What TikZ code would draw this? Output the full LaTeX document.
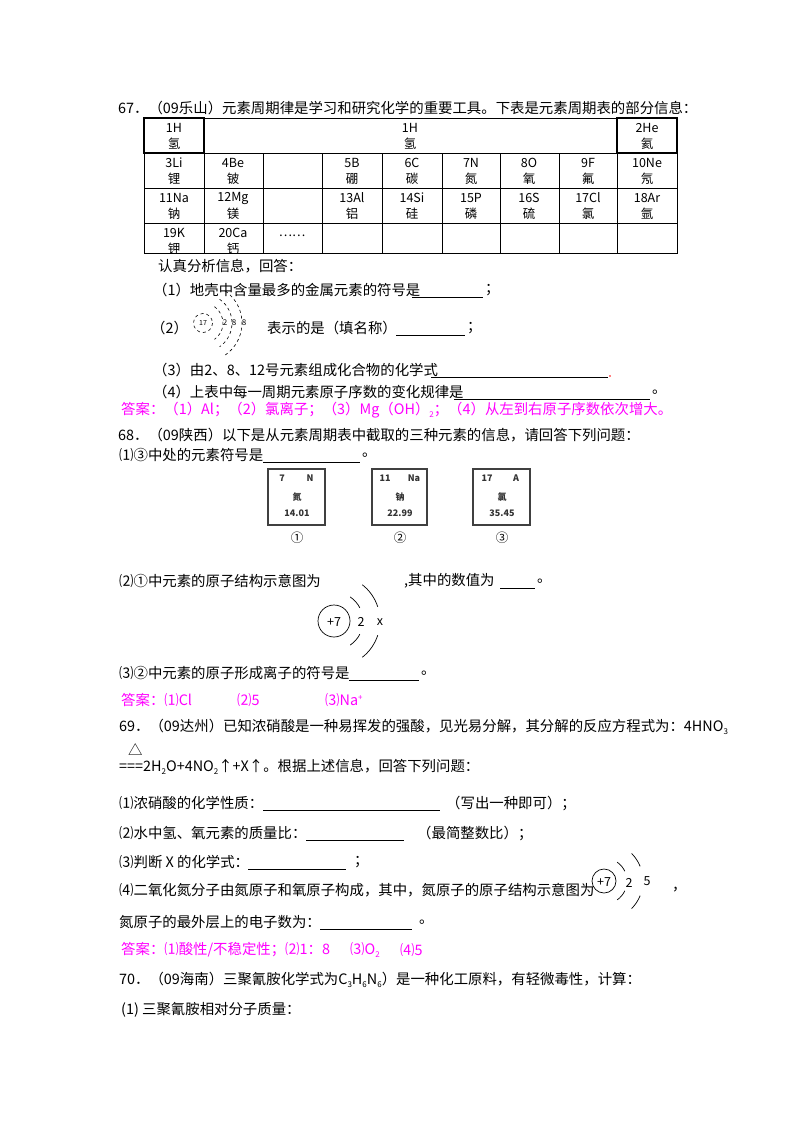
\documentclass[tikz,border=0pt]{standalone}
\usepackage{fontspec}
\setmainfont{Noto Sans CJK SC}
\newcommand{\dn}[1]{\raisebox{-0.35ex}{\fontsize{8}{8}\selectfont #1}}
\newcommand{\up}[1]{\raisebox{0.7ex}{\fontsize{8}{8}\selectfont #1}}
\definecolor{mag}{RGB}{255,0,255}
\tikzset{
  t/.style={anchor=west,inner sep=0pt,font=\fontsize{14.4}{16}\selectfont},
  c/.style={inner sep=0pt,font=\fontsize{12.5}{14}\selectfont},
  ans/.style={t,text=mag},
  ul/.style={line width=0.7pt},
  grid/.style={line width=0.8pt},
  eb/.style={draw=black!75,line width=1.6pt},
  es/.style={inner sep=0pt,font=\fontsize{9}{10}\selectfont\bfseries,text=black!80}
}
\begin{document}
\begin{tikzpicture}[x=1pt,y=-1pt]
\useasboundingbox (0,0) rectangle (800,1132);
\fill[white] (0,0) rectangle (800,1132);
% 67
\node[t] (q67) at (118,108) {67．（09乐山）元素周期律是学习和研究化学的重要工具。下表是元素周期表的部分信息：};
% table
\draw[grid] (144,153) rectangle (677,253);
\foreach \yy in {188,223} \draw[grid] (144,\yy) -- (677,\yy);
\foreach \xx in {204,263,322,382,442,500,559,617} \draw[grid] (\xx,153) -- (\xx,253);
\draw[line width=1.3pt] (144,118) rectangle (204,153);
\draw[line width=1.3pt] (617,118) rectangle (677,153);
\draw[grid] (204,118) -- (617,118);
\newcommand{\cell}[4]{\node[c] at (#1,#2+10) {#3}; \node[c] at (#1,#2+26) {#4};}
\cell{174}{118}{1H}{氢}
\cell{410}{118}{1H}{氢}
\cell{647}{118}{2He}{氦}
\cell{174}{153}{3Li}{锂}
\cell{233}{153}{4Be}{铍}
\cell{352}{153}{5B}{硼}
\cell{412}{153}{6C}{碳}
\cell{471}{153}{7N}{氮}
\cell{529}{153}{8O}{氧}
\cell{588}{153}{9F}{氟}
\cell{647}{153}{10Ne}{氖}
\cell{174}{188}{11Na}{钠}
\cell{233}{188}{12Mg}{镁}
\cell{352}{188}{13Al}{铝}
\cell{412}{188}{14Si}{硅}
\cell{471}{188}{15P}{磷}
\cell{529}{188}{16S}{硫}
\cell{588}{188}{17Cl}{氯}
\cell{647}{188}{18Ar}{氩}
\cell{174}{223}{19K}{钾}
\cell{233}{223}{20Ca}{钙}
\node[c] (dots) at (292,236) {……};
\node[t] (a0) at (158,266) {认真分析信息，回答：};
\node[t] (a1) at (153,290) {（1）地壳中含量最多的金属元素的符号是};
\draw[ul] (412,297) -- (483,297); \node[t] at (485,290) {；};
\node[t] (a2) at (151,328) {（2）};
% atom 17
\draw[dashed,line width=0.6pt] (203,323) circle (9.5);
\node[inner sep=0pt,font=\fontsize{7}{7}\selectfont] at (203,323) {17};
\foreach \r in {20,29,39} \draw[dashed,line width=0.6pt] (203,323) ++(-55:\r) arc[start angle=-55,end angle=55,radius=\r];
\node[inner sep=0pt,font=\fontsize{8}{8}\selectfont] at (225,323) {2};
\node[inner sep=0pt,font=\fontsize{8}{8}\selectfont] at (234,323) {8};
\node[inner sep=0pt,font=\fontsize{8}{8}\selectfont] at (244,323) {8};
\node[t] (a2b) at (267,328) {表示的是（填名称）};
\draw[ul] (396,335) -- (465,335); \node[t] at (467,328) {；};
\node[t] (a3) at (153,370) {（3）由2、8、12号元素组成化合物的化学式};
\draw[ul] (431,377) -- (608,377); \fill[red] (610,376) circle (0.8);
\node[t] (a4) at (153,392) {（4）上表中每一周期元素原子序数的变化规律是};
\draw[ul] (454,399) -- (650,399); \node[t] at (652,392) {。};
\node[ans] (ans67) at (121,410) {答案：（1）Al；（2）氯离子；（3）Mg（OH）\dn{2}；（4）从左到右原子序数依次增大。};
% 68
\node[t] (q68) at (118,435) {68．（09陕西）以下是从元素周期表中截取的三种元素的信息，请回答下列问题：};
\node[t] (b1) at (119,455) {⑴③中处的元素符号是};
\draw[ul] (263,462) -- (360,462); \node[t] at (362,455) {。};
\draw[eb] (268,469) rectangle (325,525);
\node[es] at (282,478) {7}; \node[es] at (310,478) {N}; \node[es] at (297,497) {氮}; \node[es] at (297,513) {14.01};
\draw[eb] (372,469) rectangle (427,525);
\node[es] at (385,478) {11}; \node[es] at (414,478) {Na}; \node[es] at (400,497) {钠}; \node[es] at (400,513) {22.99};
\draw[eb] (473,469) rectangle (530,525);
\node[es] at (487,478) {17}; \node[es] at (516,478) {A}; \node[es] at (502,497) {氯}; \node[es] at (502,513) {35.45};
\node[c] at (297,538) {①}; \node[c] at (400,538) {②}; \node[c] at (502,538) {③};
\node[t] (b2) at (119,581) {⑵①中元素的原子结构示意图为};
\node[t] (b2b) at (404,581) {,其中的数值为};
\draw[ul] (500,588) -- (535,588); \node[t] at (537,581) {。};
% atom N
\draw[line width=0.7pt] (334,621) circle (16);
\node[c] at (334,622) {+7};
\draw[line width=0.7pt] (334,621) ++(27:29) arc[start angle=27,end angle=56,radius=29];
\draw[line width=0.7pt] (334,621) ++(-27:29) arc[start angle=-27,end angle=-56,radius=29];
\draw[line width=0.7pt] (334,621) ++(18:46) arc[start angle=18,end angle=52,radius=46];
\draw[line width=0.7pt] (334,621) ++(-18:46) arc[start angle=-18,end angle=-52,radius=46];
\node[c] at (361,622) {2}; \node[c] at (380,622) {x};
\node[t] (b3) at (119,673) {⑶②中元素的原子形成离子的符号是};
\draw[ul] (349,680) -- (419,680); \node[t] at (421,673) {。};
\node[ans] (ans68) at (121,700) {答案：⑴Cl};
\node[ans] at (237,700) {⑵5};
\node[ans] at (325,700) {⑶Na\up{+}};
% 69
\node[t] (q69) at (119,727) {69．（09达州）已知浓硝酸是一种易挥发的强酸，见光易分解，其分解的反应方程式为：4HNO\dn{3}};
\node[t] at (128,750) {△};
\node[t] (eq) at (119,767) {===2H\dn{2}O+4NO\dn{2}↑+X↑。根据上述信息，回答下列问题：};
\node[t] (c1) at (119,803) {⑴浓硝酸的化学性质：};
\draw[ul] (263,810) -- (440,810); \node[t] at (446,803) {（写出一种即可）；};
\node[t] (c2) at (119,833) {⑵水中氢、氧元素的质量比：};
\draw[ul] (306,840) -- (404,840); \node[t] at (417,833) {（最简整数比）；};
\node[t] (c3) at (119,862) {⑶判断 X 的化学式：};
\draw[ul] (248,869) -- (346,869); \node[t] at (354,862) {；};
\node[t] (c4) at (119,890) {⑷二氧化氮分子由氮原子和氧原子构成，其中，氮原子的原子结构示意图为};
\draw[line width=0.7pt] (604,881) circle (12);
\node[c] at (604,882) {+7};
\draw[line width=0.7pt] (604,881) ++(25:23) arc[start angle=25,end angle=55,radius=23];
\draw[line width=0.7pt] (604,881) ++(-25:23) arc[start angle=-25,end angle=-55,radius=23];
\draw[line width=0.7pt] (604,881) ++(22:39) arc[start angle=22,end angle=45,radius=39];
\draw[line width=0.7pt] (604,881) ++(-22:39) arc[start angle=-22,end angle=-45,radius=39];
\node[c] at (629,883) {2}; \node[c] at (647,881) {5};
\node[t] at (672,890) {，};
\node[t] (c5) at (119,922) {氮原子的最外层上的电子数为：};
\draw[ul] (320,929) -- (412,929); \node[t] at (419,922) {。};
\node[ans] (ans69) at (121,950) {答案：⑴酸性/不稳定性；⑵1：8};
\node[ans] at (350,950) {⑶O\dn{2}};
\node[ans] at (400,950) {⑷5};
% 70
\node[t] (q70) at (119,980) {70．（09海南）三聚氰胺化学式为C\dn{3}H\dn{6}N\dn{6}）是一种化工原料，有轻微毒性，计算：};
\node[t] (d1) at (121,1010) {(1) 三聚氰胺相对分子质量：};
\end{tikzpicture}
\end{document}
